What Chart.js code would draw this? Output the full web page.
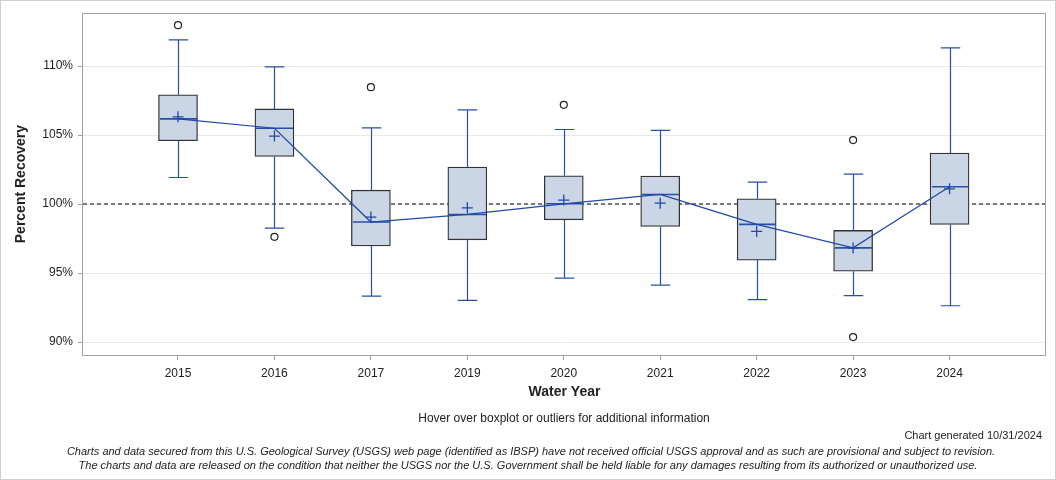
<!DOCTYPE html>
<html>
<head>
<meta charset="utf-8">
<script src="https://cdn.jsdelivr.net/npm/chart.js@4.4.1/dist/chart.umd.min.js"></script>
<style>
  body { margin: 0; background: #fff; font-family: "Liberation Sans", Arial, sans-serif; }
  #wrap { position: relative; width: 1056px; height: 480px; box-sizing: border-box; border: 1px solid #cfcfcf; overflow: hidden; }
  #chart { position: absolute; left: 0; top: 0; }
  .note { position: absolute; white-space: nowrap; color: #222; line-height: 14px; }
</style>
</head>
<body>
<div id="wrap">
  <canvas id="chart" width="1056" height="480"></canvas>
  <div class="note" style="left:563px; top:410px; font-size:12px; transform:translateX(-50%);">Hover over boxplot or outliers for additional information</div>
  <div class="note" style="right:13px; top:427px; font-size:11px;">Chart generated 10/31/2024</div>
  <div class="note" style="left:530px; top:443px; font-size:11px; font-style:italic; transform:translateX(-50%);">Charts and data secured from this U.S. Geological Survey (USGS) web page (identified as IBSP) have not received official USGS approval and as such are provisional and subject to revision.</div>
  <div class="note" style="left:527px; top:457px; font-size:11px; font-style:italic; transform:translateX(-50%);">The charts and data are released on the condition that neither the USGS nor the U.S. Government shall be held liable for any damages resulting from its authorized or unauthorized use.</div>
</div>
<script>
// ===== DATA =====
const years     = ['2015', '2016', '2017', '2019', '2020', '2021', '2022', '2023', '2024'];
const whiskerLo = [101.93, 98.26, 93.33, 93.02, 94.64, 94.13, 93.07, 93.36, 92.63];
const q1        = [104.59, 103.45, 96.96, 97.41, 98.86, 98.38, 95.94, 95.14, 98.53];
const medians   = [106.18, 105.50, 98.70, 99.25, 100.02, 100.70, 98.53, 96.83, 101.26];
const q3        = [107.92, 106.90, 101.01, 102.68, 102.05, 102.03, 100.39, 98.09, 103.70];
const whiskerHi = [111.90, 109.95, 105.53, 106.83, 105.41, 105.34, 101.59, 102.17, 111.33];
const means     = [106.33, 104.93, 99.06, 99.73, 100.29, 100.07, 98.02, 96.81, 101.11];
const outlierYear = [0, 1, 2, 4, 7, 7];
const outlierVal  = [112.97, 97.63, 108.48, 107.20, 104.64, 90.36];
const yTicks = [90, 95, 100, 105, 110];
const refValue = 100;

const BLUE = '#2550a6';
const BOX_W = 39;

// ===== WHISKERS, MEDIANS, REFERENCE LINE, FRAME =====
const boxExtras = {
  id: 'boxExtras',
  beforeDatasetsDraw(chart) {
    const { ctx, chartArea: a, scales: { y } } = chart;
    const py = y.getPixelForValue(refValue);
    ctx.save();
    ctx.strokeStyle = '#7a7a7a';
    ctx.lineWidth = 2;
    ctx.setLineDash([4, 3]);
    ctx.beginPath();
    ctx.moveTo(a.left, py);
    ctx.lineTo(a.right, py);
    ctx.stroke();
    ctx.restore();
  },
  afterDatasetDraw(chart, args) {
    if (args.index !== 0) return;
    const { ctx, scales: { x, y } } = chart;
    ctx.save();
    ctx.strokeStyle = BLUE;
    years.forEach((_, i) => {
      const px = Math.round(x.getPixelForValue(i)) + 0.5;
      const lo = y.getPixelForValue(whiskerLo[i]);
      const hi = y.getPixelForValue(whiskerHi[i]);
      const b1 = y.getPixelForValue(q1[i]);
      const b3 = y.getPixelForValue(q3[i]);
      const m = y.getPixelForValue(medians[i]);
      ctx.lineWidth = 1.2;
      ctx.beginPath();
      ctx.moveTo(px, b3); ctx.lineTo(px, hi);
      ctx.moveTo(px, b1); ctx.lineTo(px, lo);
      ctx.moveTo(px - BOX_W / 4, hi); ctx.lineTo(px + BOX_W / 4, hi);
      ctx.moveTo(px - BOX_W / 4, lo); ctx.lineTo(px + BOX_W / 4, lo);
      ctx.stroke();
      ctx.lineWidth = 1.6;
      ctx.beginPath();
      ctx.moveTo(px - BOX_W / 2 + 1, m); ctx.lineTo(px + BOX_W / 2 - 1, m);
      ctx.stroke();
    });
    ctx.restore();
  },
  afterDraw(chart) {
    const { ctx, chartArea: a } = chart;
    ctx.save();
    ctx.strokeStyle = '#a0a0a0';
    ctx.lineWidth = 1;
    ctx.strokeRect(Math.round(a.left) - 0.5, Math.round(a.top) + 0.5,
      Math.round(a.right - a.left), Math.round(a.bottom - a.top));
    ctx.restore();
  }
};

// ===== CHART =====
new Chart(document.getElementById('chart'), {
  type: 'scatter',
  data: {
    datasets: [{
      type: 'bar',
      data: years.map((_, i) => ({ x: i, y: [q1[i], q3[i]] })),
      backgroundColor: '#cad5e6',
      borderColor: '#333',
      borderWidth: 1.3,
      borderSkipped: false,
      barThickness: BOX_W,
      order: 4
    }, {
      type: 'line',
      data: years.map((_, i) => ({ x: i, y: medians[i] })),
      borderColor: '#1f48a8',
      borderWidth: 1.2,
      pointRadius: 0,
      tension: 0,
      fill: false,
      order: 3
    }, {
      data: years.map((_, i) => ({ x: i, y: means[i] })),
      pointStyle: 'cross',
      pointRadius: 5.5,
      borderColor: '#1f48a8',
      borderWidth: 1.3,
      order: 2
    }, {
      data: outlierYear.map((k, i) => ({ x: k, y: outlierVal[i] })),
      pointStyle: 'circle',
      pointRadius: 3.5,
      backgroundColor: '#fff',
      borderColor: '#222',
      borderWidth: 1.2,
      order: 1
    }]
  },
  options: {
    responsive: false,
    animation: false,
    events: [],
    layout: { padding: { top: 12, right: 11, bottom: 76, left: 0 } },
    plugins: { legend: { display: false }, tooltip: { enabled: false } },
    scales: {
      x: {
        type: 'linear',
        min: -0.985,
        max: years.length,
        offset: false,
        afterBuildTicks: s => { s.ticks = years.map((_, i) => ({ value: i })); },
        afterFit: s => { s.height = 50; },
        ticks: {
          callback: v => years[v],
          color: '#222',
          padding: 6,
          autoSkip: false,
          maxRotation: 0,
          font: { family: 'Liberation Sans', size: 12 }
        },
        grid: { offset: false, drawOnChartArea: false, drawTicks: true, tickLength: 5, tickColor: '#a0a0a0' },
        border: { display: false },
        title: {
          display: true,
          text: 'Water Year',
          color: '#222',
          padding: { top: 0, bottom: 4 },
          font: { family: 'Liberation Sans', size: 14, weight: 'bold' }
        }
      },
      y: {
        min: 89.06,
        max: 113.84,
        afterBuildTicks: s => { s.ticks = yTicks.map(v => ({ value: v })); },
        afterFit: s => { s.width = 82; },
        ticks: {
          callback: v => v + '%',
          color: '#222',
          padding: 5,
          font: { family: 'Liberation Sans', size: 12 }
        },
        grid: { color: '#e8e8e8', tickLength: 5, tickColor: '#a0a0a0' },
        border: { display: false },
        title: {
          display: true,
          text: 'Percent Recovery',
          color: '#222',
          padding: { top: 12, bottom: 0 },
          font: { family: 'Liberation Sans', size: 14, weight: 'bold' }
        }
      }
    }
  },
  plugins: [boxExtras]
});
</script>
</body>
</html>
